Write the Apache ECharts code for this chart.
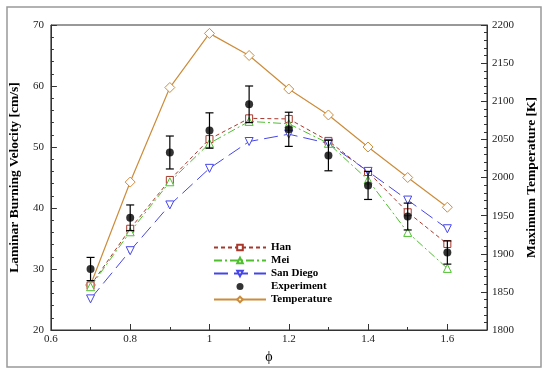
<!DOCTYPE html>
<html><head><meta charset="utf-8">
<script src="https://cdn.jsdelivr.net/npm/echarts@6/dist/echarts.min.js"></script>
<style>html,body{margin:0;padding:0;background:#fff}#c{width:550px;height:377px}</style>
</head><body><div id="c"></div>
<script>
var phi = [0.7, 0.8, 0.9, 1.0, 1.1, 1.2, 1.3, 1.4, 1.5, 1.6];
var han = [27.3, 36.6, 44.6, 51.3, 54.7, 54.6, 51.0, 45.9, 39.3, 34.1];
var mei = [27.1, 36.1, 44.3, 50.6, 54.2, 53.8, 50.6, 44.6, 36.0, 30.1];
var sanDiego = [25.1, 33.0, 40.5, 46.5, 50.9, 52.1, 50.6, 46.0, 41.3, 36.6];
var experiment = [30.0, 38.4, 49.1, 52.7, 57.0, 52.9, 48.6, 43.7, 38.6, 32.7];
var expError = [1.9, 2.1, 2.7, 2.9, 3.0, 2.8, 2.5, 2.3, 2.2, 1.9];
var temperature = [1859, 1994, 2118, 2189, 2160, 2116, 2082, 2040, 2000, 1961];
var xTicks = [0.6, 0.8, 1.0, 1.2, 1.4, 1.6];

function pairs(ys){ return phi.map(function(x,i){ return [x, ys[i]]; }); }
var errData = phi.map(function(x,i){ return [x, experiment[i]-expError[i], experiment[i]+expError[i]]; });

var font = '"Liberation Serif", "Times New Roman", serif';
var chart = echarts.init(document.getElementById('c'));
chart.setOption({
  animation: false,
  textStyle: {fontFamily: font},
  graphic: [{type:'rect', shape:{x:7, y:7, width:534, height:360}, style:{fill:'none', stroke:'#999', lineWidth:1.5}, z:-1}],
  grid: {left:50, top:25, right:63, bottom:47, show:true, borderColor:'#333', borderWidth:1},
  legend: {
    orient:'vertical', left:208, top:237, itemWidth:52, itemHeight:7, itemGap:2,
    textStyle:{fontFamily:font, fontWeight:'bold', fontSize:11, color:'#000', lineHeight:11},
    data:['Han','Mei','San Diego','Experiment','Temperature']
  },
  xAxis: {
    type:'value', min:0.6, max:1.7, interval:0.2,
    name:'ϕ', nameLocation:'middle', nameGap:20,
    nameTextStyle:{fontFamily:font, fontSize:14, color:'#000'},
    axisLine:{lineStyle:{color:'#333'}},
    axisTick:{inside:true, length:6, lineStyle:{color:'#333'}},
    minorTick:{show:true, splitNumber:2, length:3, lineStyle:{color:'#333'}},
    splitLine:{show:false},
    axisLabel:{fontFamily:font, fontSize:11, color:'#222', margin:4, showMaxLabel:false,
      formatter:function(v){ var r=Math.round(v*10)/10; return xTicks.indexOf(r)>=0 ? String(r) : ''; }}
  },
  yAxis: [{
    type:'value', min:20, max:70, interval:10,
    name:'Laminar Burning Velocity [cm/s]', nameLocation:'middle', nameGap:21,
    nameTextStyle:{fontFamily:font, fontSize:13.5, fontWeight:'bold', color:'#000'},
    axisLine:{show:true, lineStyle:{color:'#333'}},
    axisTick:{show:true, inside:true, length:6, lineStyle:{color:'#333'}},
    minorTick:{show:true, splitNumber:5, length:3, lineStyle:{color:'#333'}},
    splitLine:{show:false},
    axisLabel:{fontFamily:font, fontSize:11, color:'#222', margin:7}
  },{
    type:'value', min:1800, max:2200, interval:50, position:'right',
    name:'Maximum Temperature [K]', nameLocation:'middle', nameGap:30, nameRotate:90,
    nameTextStyle:{fontFamily:font, fontSize:13.5, fontWeight:'bold', color:'#000'},
    axisLine:{show:true, lineStyle:{color:'#333'}},
    axisTick:{show:true, inside:true, length:6, lineStyle:{color:'#333'}},
    minorTick:{show:true, splitNumber:5, length:3, lineStyle:{color:'#333'}},
    splitLine:{show:false},
    axisLabel:{fontFamily:font, fontSize:11, color:'#222', margin:5, formatter:function(v){ return String(Math.round(v)); }}
  }],
  series: [
    {name:'Han', type:'line', data:pairs(han), symbol:'rect', symbolSize:7,
      itemStyle:{color:'#fff', borderColor:'#a8382c', borderWidth:1},
      lineStyle:{color:'#a8382c', width:1, type:[4,3]}, color:'#a8382c', z:3},
    {name:'Mei', type:'line', data:pairs(mei), symbol:'triangle', symbolSize:8,
      itemStyle:{color:'#fff', borderColor:'#4fbf2f', borderWidth:1},
      lineStyle:{color:'#4fbf2f', width:1, type:[8,3,2,3]}, color:'#4fbf2f', z:3},
    {name:'San Diego', type:'line', data:pairs(sanDiego), symbol:'triangle', symbolRotate:180, symbolSize:8,
      itemStyle:{color:'#fff', borderColor:'#4646e8', borderWidth:1},
      lineStyle:{color:'#4646e8', width:1, type:[14,6]}, color:'#4646e8', z:3},
    {name:'Experiment', type:'scatter', data:pairs(experiment), symbol:'circle', symbolSize:8,
      itemStyle:{color:'#000'}, z:5},
    {name:'ExpErr', type:'custom', data:errData, z:4,
      renderItem:function(params, api){
        var lo = api.coord([api.value(0), api.value(1)]);
        var hi = api.coord([api.value(0), api.value(2)]);
        var w = 4;
        var st = {stroke:'#000', lineWidth:1.2};
        return {type:'group', children:[
          {type:'line', shape:{x1:lo[0], y1:lo[1], x2:hi[0], y2:hi[1]}, style:st},
          {type:'line', shape:{x1:lo[0]-w, y1:lo[1], x2:lo[0]+w, y2:lo[1]}, style:st},
          {type:'line', shape:{x1:hi[0]-w, y1:hi[1], x2:hi[0]+w, y2:hi[1]}, style:st}
        ]};
      }},
    {name:'Temperature', type:'line', yAxisIndex:1, data:pairs(temperature), symbol:'diamond', symbolSize:10,
      itemStyle:{color:'#fff', borderColor:'#cc8c3a', borderWidth:1},
      lineStyle:{color:'#cc8c3a', width:1.2, type:'solid'}, color:'#cc8c3a', z:2}
  ]
});
</script></body></html>
